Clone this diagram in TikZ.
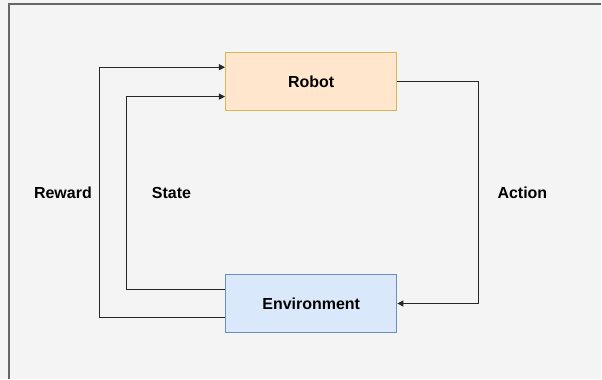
\documentclass[tikz,border=0pt]{standalone}
\usepackage{fontspec}
\setmainfont{Liberation Sans}
\usetikzlibrary{arrows.meta}

\definecolor{pagebg}{RGB}{244,244,244}
\definecolor{pageline}{RGB}{102,102,102}
\definecolor{robotfill}{RGB}{255,230,204}
\definecolor{robotline}{RGB}{214,182,86}
\definecolor{envfill}{RGB}{218,232,252}
\definecolor{envline}{RGB}{108,142,191}

\tikzset{
  block/.style={draw, line width=1pt, minimum width=171.6pt, minimum height=58pt,
    inner sep=0pt, font=\fontsize{16}{19}\selectfont\bfseries},
  flow/.style={draw=black!85, line width=1pt, -{Triangle[length=6pt,width=6pt]}},
  tag/.style={inner sep=0pt, font=\fontsize{16}{19}\selectfont\bfseries}
}

\begin{document}
\begin{tikzpicture}[x=1pt,y=1pt,yscale=-1,xscale=1]
% page
\fill[pagebg] (0,0) rectangle (602,379);
\draw[pageline, line width=1.2pt] (9,379) -- (9,4) -- (602,4);

% blocks
\node[block, draw=robotline, fill=robotfill] (robot) at (311.5,81.7) {Robot};
\node[block, draw=envline, fill=envfill] (env) at (311.5,303.8) {Environment};

% loops
\draw[flow] ([yshift=14.5pt]env.west) -- ++(-126,0) |- ([yshift=-14.4pt]robot.west);
\draw[flow] ([yshift=-14.5pt]env.west) -- ++(-99,0) |- ([yshift=15pt]robot.west);
\draw[flow] (robot.east) -- ++(81,0) |- (env.east);

% labels
\node[tag] (reward) at (63,192.7) {Reward};
\node[tag] (state) at (171.6,192.7) {State};
\node[tag] (action) at (522.9,192.7) {Action};

\end{tikzpicture}
\end{document}
